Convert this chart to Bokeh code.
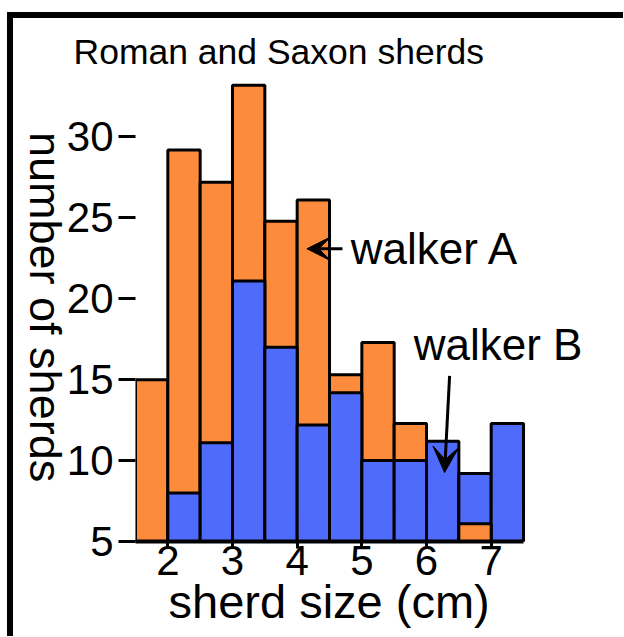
from bokeh.plotting import figure
from bokeh.models import (ColumnDataSource, FixedTicker, Label, Arrow, VeeHead,
                          Range1d, Title, Div)
from bokeh.layouts import row
from bokeh.embed import file_html
from bokeh.resources import INLINE

# ---- data ----
sherd_size = [1.75, 2.25, 2.75, 3.25, 3.75, 4.25, 4.75, 5.25, 5.75, 6.25, 6.75, 7.25]
walker_a = [15.0, 29.2, 27.2, 33.2, 24.8, 26.1, 15.3, 17.3, 12.3, 0.0, 6.1, 0.0]
walker_b = [0.0, 8.0, 11.1, 21.1, 17.0, 12.2, 14.2, 10.0, 10.0, 11.2, 9.2, 12.3]
bin_width = 0.5
x_ticks = [2, 3, 4, 5, 6, 7]
y_ticks = [5, 10, 15, 20, 25, 30]

ORANGE = "#FD8B3C"
BLUE = "#4F6BFC"
FONT = "Liberation Sans"

# taller bar behind, shorter bar in front
back_top, back_col, front_top, front_col = [], [], [], []
for a, b in zip(walker_a, walker_b):
    if a >= b:
        back_top.append(a); back_col.append(ORANGE)
        front_top.append(b); front_col.append(BLUE)
    else:
        back_top.append(b); back_col.append(BLUE)
        front_top.append(a); front_col.append(ORANGE)

src = ColumnDataSource(dict(x=sherd_size, back=back_top, bcol=back_col,
                            front=front_top, fcol=front_col))

p = figure(width=560, height=618, output_backend="svg", toolbar_location=None,
           x_range=Range1d(1.5, 9.046), y_range=Range1d(5, 33.8),
           min_border_left=71, min_border_right=0,
           min_border_top=57, min_border_bottom=95)
p.margin = 0
p.outline_line_color = None
p.xgrid.visible = False
p.ygrid.visible = False
p.background_fill_color = "white"
p.border_fill_color = "white"

# title
p.title.text = "Roman and Saxon sherds"
p.title.text_font = FONT
p.title.text_font_size = "35.5px"
p.title.text_font_style = "normal"
p.title.text_color = "black"
p.title.align = "left"
p.title.offset = -62
p.title.standoff = 8

p.vbar(x="x", width=bin_width, top="back", bottom=0, source=src,
       fill_color="bcol", line_color="black", line_width=3)
p.vbar(x="x", width=bin_width, top="front", bottom=0, source=src,
       fill_color="fcol", line_color="black", line_width=3)

# axes
p.xaxis.ticker = FixedTicker(ticks=x_ticks)
p.yaxis.ticker = FixedTicker(ticks=y_ticks)
p.xaxis.bounds = (1.5, 7.5)
p.xaxis.minor_tick_line_color = None
p.yaxis.minor_tick_line_color = None
p.xaxis.axis_line_width = 4
p.xaxis.axis_line_color = "black"
p.yaxis.axis_line_color = None
p.xaxis.major_tick_line_width = 3
p.yaxis.major_tick_line_width = 3
p.xaxis.major_tick_in = 0
p.yaxis.major_tick_in = 0
p.xaxis.major_tick_out = 7
p.yaxis.major_tick_out = 17
for ax in (p.xaxis, p.yaxis):
    ax.major_label_text_font = FONT
    ax.major_label_text_font_size = "42px"
    ax.major_label_text_color = "black"
p.xaxis.major_label_standoff = -3
p.yaxis.major_label_standoff = 5

# x-axis title, under the bars
p.add_layout(Title(text="sherd size (cm)", text_font=FONT, text_font_size="47px",
                   text_font_style="normal", text_color="black",
                   align="left", offset=33, standoff=-10), "below")

# annotations inside the frame
p.add_layout(Label(x=4.829, y=23.12, text="walker A",
                   text_font=FONT, text_font_size="44px", text_align="left",
                   text_baseline="alphabetic", text_color="black"))
p.add_layout(Label(x=5.801, y=17.19, text="walker B",
                   text_font=FONT, text_font_size="44px", text_align="left",
                   text_baseline="alphabetic", text_color="black"))

p.add_layout(Arrow(x_start=4.70, y_start=23.09, x_end=4.15, y_end=23.09,
                   line_width=3, line_color="black",
                   end=VeeHead(size=24, fill_color="black", line_color="black")))
p.add_layout(Arrow(x_start=6.357, y_start=15.24, x_end=6.279, y_end=9.26,
                   line_width=3, line_color="black",
                   end=VeeHead(size=26, fill_color="black", line_color="black")))

# y-axis title reading top to bottom
y_title = "number of sherds"
ydiv = Div(text=('<div style="writing-mode: vertical-rl; font-family: \'Liberation Sans\'; '
                 'font-size: 45px; line-height: 45px; color: black; height: 578px; '
                 'text-align: center; margin-left: 10px; white-space: nowrap;">'
                 + y_title + '</div>'),
           width=50, height=618, margin=0)

layout = row(ydiv, p, spacing=0)
layout.margin = 0
layout.styles = {"border-left": "6px solid black", "border-top": "6px solid black",
                 "margin-left": "7px", "margin-top": "12px"}

open("out.html", "w").write(file_html(layout, INLINE))
